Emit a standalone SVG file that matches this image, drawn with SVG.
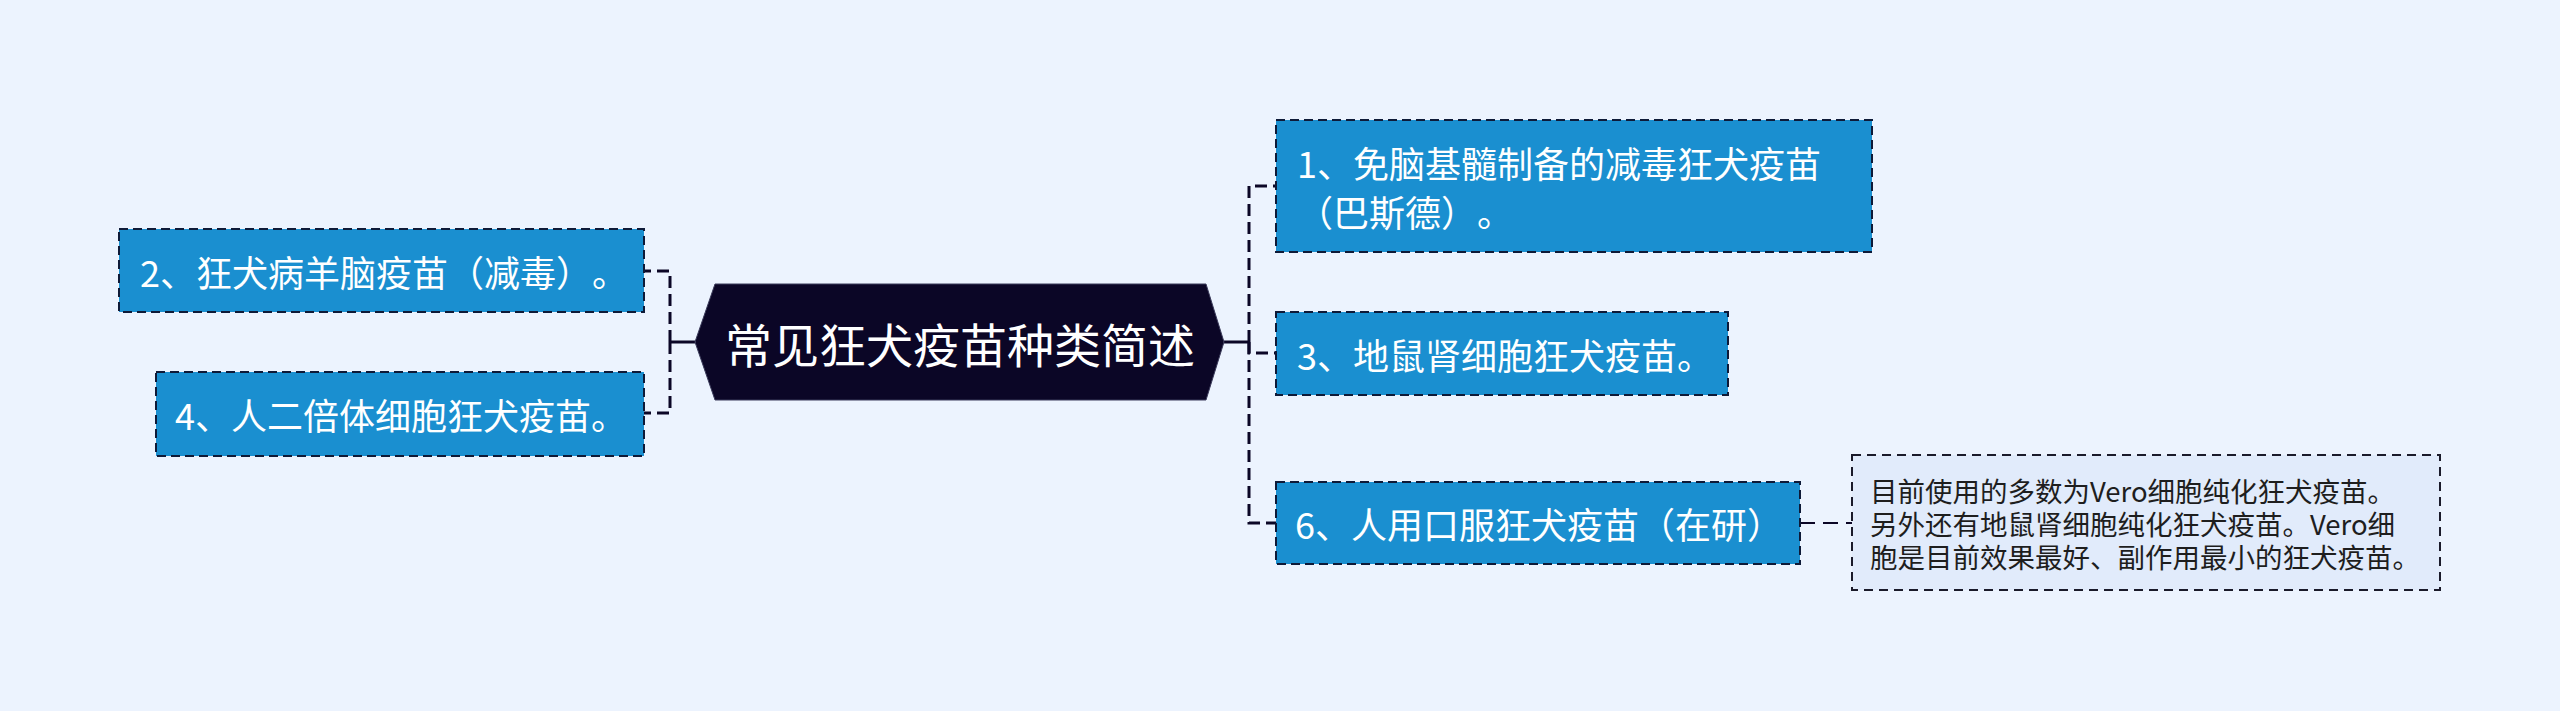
<svg xmlns="http://www.w3.org/2000/svg" width="2560" height="711" viewBox="0 0 2560 711">
<defs>
<style>
.bg{fill:#ECF3FE}
text{text-spacing-trim:space-all;font-feature-settings:"chws" 0,"halt" 0,"palt" 0}
.node rect{fill:#1A8FD0;stroke:#0E1A38;stroke-width:2;stroke-dasharray:9 5}
.node text{fill:#FFFFFF;font-family:"Noto Sans CJK SC","Noto Sans",sans-serif;font-size:36px;dominant-baseline:central}
.root polygon{fill:#0B0626;stroke:#3A3A5A;stroke-width:1}
.root text{fill:#FFFFFF;font-family:"Noto Sans CJK SC","Noto Sans",sans-serif;font-size:47px;dominant-baseline:central;text-anchor:middle}
.note rect{fill:#E1EBFB;stroke:#1A1A2A;stroke-width:2;stroke-dasharray:9 6}
.note text{fill:#1E1E1E;font-family:"Noto Sans CJK SC","Noto Sans",sans-serif;font-size:27.5px;dominant-baseline:central}
.solid{fill:none;stroke:#0B0626;stroke-width:3}
.dash{fill:none;stroke:#0B0626;stroke-width:3;stroke-dasharray:12 6}
.dash2{fill:none;stroke:#0B0626;stroke-width:2;stroke-dasharray:15 8}
</style>
</defs>
<rect class="bg" x="0" y="0" width="2560" height="711"/>
<g id="connectors">
<path class="solid" d="M695,342 H670"/>
<path class="dash" d="M670,342 V271 H644"/>
<path class="dash" d="M670,342 V413 H644"/>
<path class="solid" d="M1224,342 H1249"/>
<path class="dash" d="M1249,342 V186 H1276"/>
<path class="dash" d="M1249,342 V353 H1276"/>
<path class="dash" d="M1249,342 V523 H1276"/>
<path class="dash2" d="M1800,523 H1852"/>
</g>
<g id="root" class="root">
<polygon points="695,342 715,284 1206,284 1224,342 1206,400 715,400"/>
<text x="960" y="342">常见狂犬疫苗种类简述</text>
</g>
<g id="node2" class="node">
<rect x="119" y="229" width="525" height="83"/>
<text x="140" y="270.5">2、狂犬病羊脑疫苗（减毒）。</text>
</g>
<g id="node4" class="node">
<rect x="156" y="372" width="488" height="84"/>
<text x="175" y="414">4、人二倍体细胞狂犬疫苗。</text>
</g>
<g id="node1" class="node">
<rect x="1276" y="120" width="596" height="132"/>
<text x="1297" y="161.5">1、免脑基髓制备的减毒狂犬疫苗</text>
<text x="1297" y="210.5">（巴斯德）。</text>
</g>
<g id="node3" class="node">
<rect x="1276" y="312" width="452" height="83"/>
<text x="1297" y="353.5">3、地鼠肾细胞狂犬疫苗。</text>
</g>
<g id="node6" class="node">
<rect x="1276" y="482" width="524" height="82"/>
<text x="1295" y="523">6、人用口服狂犬疫苗（在研）</text>
</g>
<g id="note6" class="note">
<rect x="1852" y="455" width="588" height="135"/>
<text x="1870" y="489.5">目前使用的多数为Vero细胞纯化狂犬疫苗。</text>
<text x="1870" y="522.5">另外还有地鼠肾细胞纯化狂犬疫苗。Vero细</text>
<text x="1870" y="555.5">胞是目前效果最好、副作用最小的狂犬疫苗。</text>
</g>
</svg>
